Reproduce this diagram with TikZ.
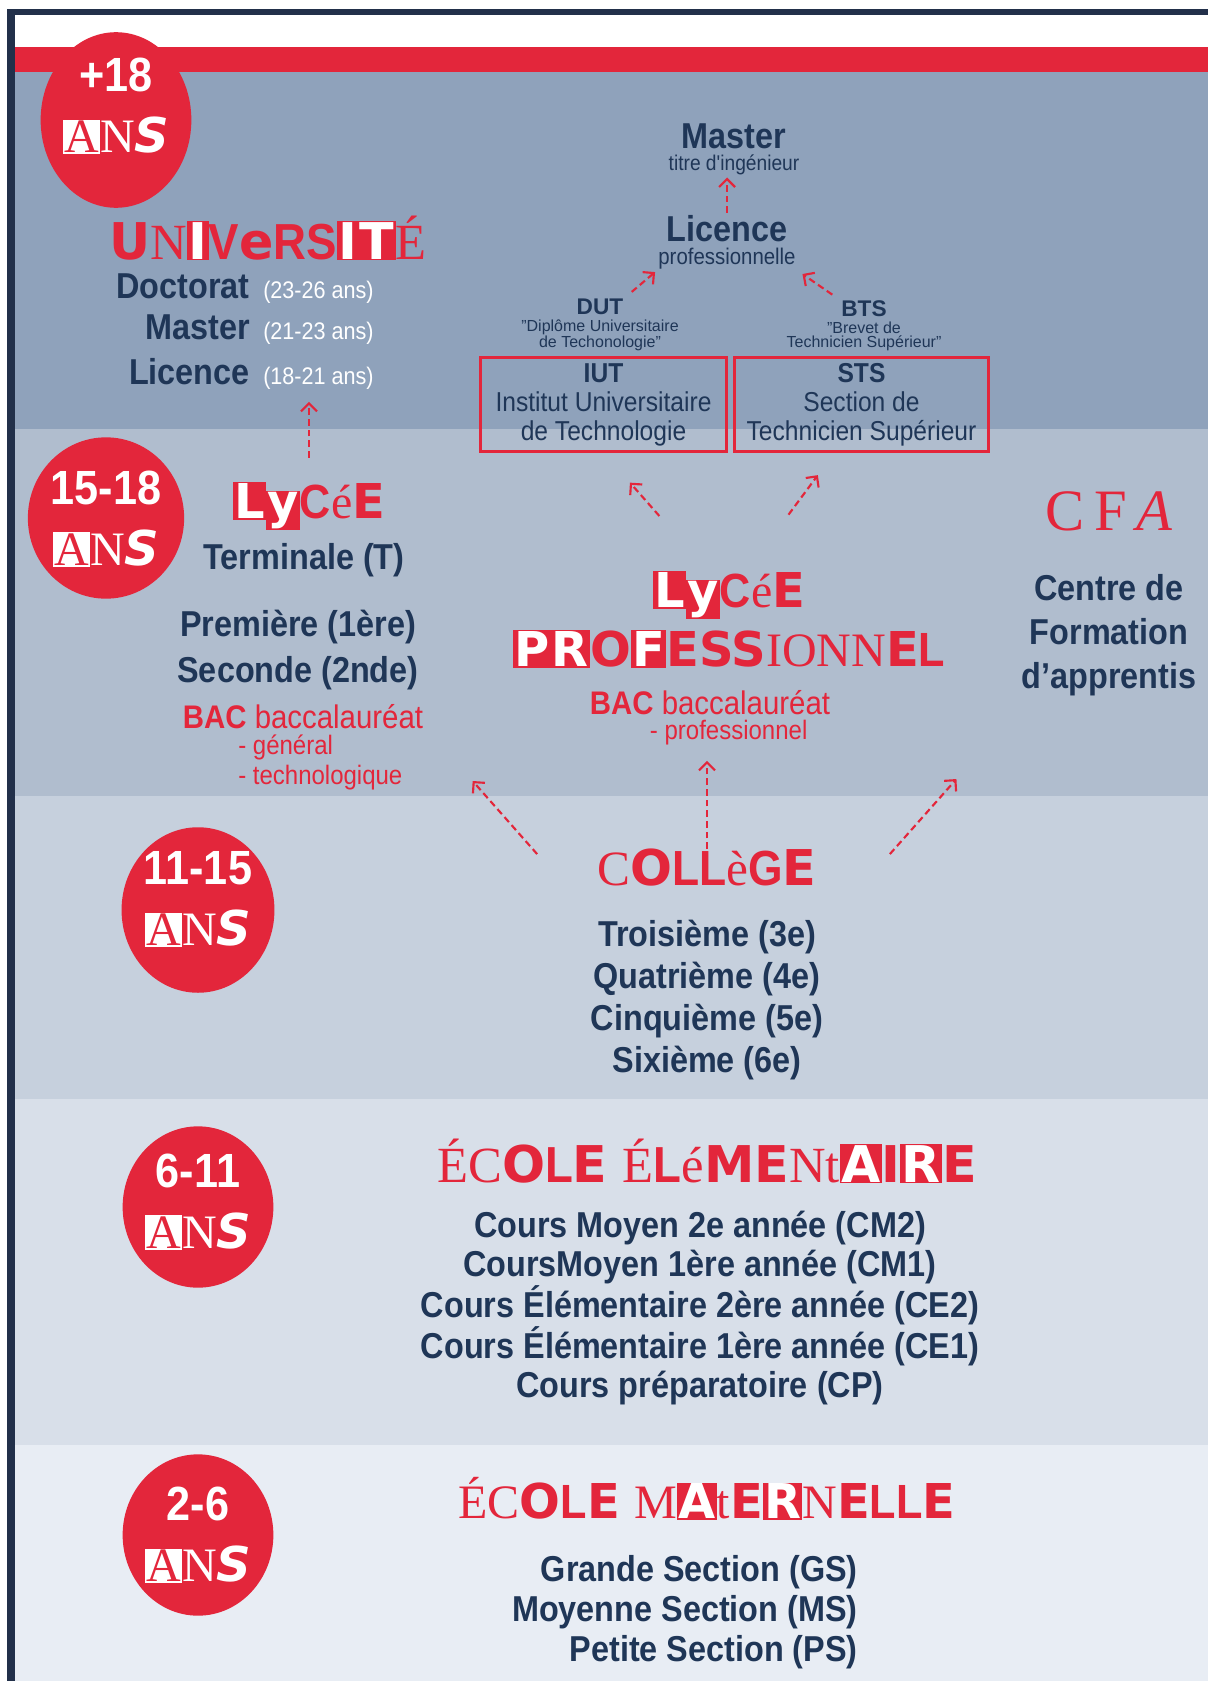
\documentclass[tikz,border=0pt]{standalone}
\usepackage{fontspec}
\setmainfont{Liberation Sans}
\newfontfamily\narrowf[FakeStretch=0.9]{Liberation Sans}
\newfontfamily\serifr{Liberation Serif}
\newfontfamily\heavyf{DejaVu Sans}
\usepackage{xcolor}
\usepackage{tikz}
\usetikzlibrary{positioning,arrows.meta,shapes.geometric}

\definecolor{rouge}{HTML}{E3263B}
\definecolor{marine}{HTML}{1F3657}
\definecolor{cadre}{HTML}{22304A}
\definecolor{bandA}{HTML}{8FA2BB}
\definecolor{bandB}{HTML}{B0BDCE}
\definecolor{bandC}{HTML}{C6D0DD}
\definecolor{bandD}{HTML}{D8DFE9}
\definecolor{bandE}{HTML}{E8EDF4}

\setlength{\fboxsep}{1pt}
\newcommand\rB[1]{{\heavyf\bfseries #1}}
\newcommand\rS[1]{{\serifr #1}}
\newcommand\rN[1]{{\narrowf\bfseries #1}}
\newcommand\rK[1]{\colorbox{rouge}{\textcolor{white}{\heavyf\bfseries #1}}}
\newcommand\ans{\colorbox{white}{\textcolor{rouge}{\serifr A}}{\serifr N}{\heavyf\bfseries\itshape S}}

\begin{document}
\begin{tikzpicture}[
  x=0.75pt, y=-0.75pt,
  ttl/.style={text=rouge, inner sep=0pt, font=\fontsize{38}{40}\selectfont},
  lst/.style={text=marine, inner sep=0pt, align=center,
              font=\narrowf\bfseries\fontsize{27}{32}\selectfont},
  sub/.style={text=marine, inner sep=0pt, font=\narrowf\fontsize{16}{17}\selectfont},
  note/.style={text=marine, inner sep=0pt, align=center, font=\fontsize{12}{11}\selectfont},
  ages/.style={text=white, inner sep=0pt, font=\narrowf\fontsize{18}{20}\selectfont},
  bac/.style={text=rouge, inner sep=0pt, font=\narrowf\fontsize{24.5}{26}\selectfont},
  bacs/.style={text=rouge, inner sep=0pt, align=left, font=\narrowf\fontsize{20}{22.5}\selectfont},
  boite/.style={draw=rouge, line width=2.2pt, minimum height=70pt, align=center,
                inner sep=0pt, text=marine, font=\narrowf\fontsize{20.5}{21.7}\selectfont},
  age/.style={ellipse, fill=rouge, minimum width=112pt, minimum height=121pt,
              inner sep=0pt, align=center, text=white, font=\fontsize{36}{46}\selectfont},
  arr/.style={draw=rouge, line width=1.6pt, dash pattern=on 5pt off 3pt,
              -{Straight Barb[length=6pt,width=12pt]}}
]
\useasboundingbox (0,0) rectangle (1208,1681);
\fill[white] (0,0) rectangle (1208,1681);
\fill[cadre] (7,9) rectangle (1208,15);
\fill[cadre] (7,9) rectangle (15,1681);
\fill[rouge] (15,47) rectangle (1208,72);
\foreach \c/\ya/\yb in {bandA/72/429, bandB/429/796, bandC/796/1099, bandD/1099/1445, bandE/1445/1681}
  \fill[\c] (15,\ya) rectangle (1208,\yb);

\node[age, text depth=22pt] (a18) at (116,120) {\rN{+18}\\\ans};
\node[age, text depth=0pt] (a15) at (106,518) {\rN{15-18}\\\ans};
\node[age, text depth=17pt] (a11) at (198,910) {\rN{11-15}\\\ans};
\node[age, text depth=9pt] (a6) at (198,1207) {\rN{6-11}\\\ans};
\node[age] (a2) at (198,1535) {\rN{2-6}\\\ans};

\node[ttl] (univ) at (268,238) {\rB{U}\rS{N}\rK{I}\rN{V}\rB{e}\rN{R}\rN{S}\rK{I}\rK{T}\rS{É}};
\node[lst, anchor=base east] (doc) at (250,298) {Doctorat};
\node[ages, anchor=base west] (docA) at (263,298) {(23-26 ans)};
\node[lst, anchor=base east] (mas) at (250,339) {Master};
\node[ages, anchor=base west] (masA) at (263,339) {(21-23 ans)};
\node[lst, anchor=base east] (lic) at (250,384) {Licence};
\node[ages, anchor=base west] (licA) at (263,384) {(18-21 ans)};

\node[lst] (mst) at (734,136) {Master};
\node[sub, below=4pt of mst] (mstS) {titre d'ingénieur};
\node[lst] (lpro) at (727,229) {Licence};
\node[sub, font=\narrowf\fontsize{17}{18}\selectfont, below=4pt of lpro] (lproS) {professionnelle};
\node[lst, font=\bfseries\fontsize{17}{18}\selectfont] (dut) at (600,307) {DUT};
\node[note, below=3pt of dut] (dutS) {"Diplôme Universitaire\\de Techonologie"};
\node[lst, font=\bfseries\fontsize{17}{18}\selectfont] (bts) at (864,309) {BTS};
\node[note, below=3pt of bts] (btsS) {"Brevet de\\Technicien Supérieur"};
\node[boite, minimum width=185pt] (iut) at (603.5,404.5) {\textbf{IUT}\\Institut Universitaire\\de Technologie};
\node[boite, minimum width=190pt] (sts) at (861.5,404.5) {\textbf{STS}\\Section de\\Technicien Supérieur};

\node[ttl, font=\fontsize{36}{38}\selectfont] (lyc) at (309,506) {\rK{L}\rK{y}\rN{C}\rS{é}\rB{E}};
\node[lst] (term) at (304,560) {Terminale (T)};
\node[lst, font=\narrowf\bfseries\fontsize{27}{33.8}\selectfont] (prem) at (298,650) {Première (1ère)\\Seconde (2nde)};
\node[bac] (bacg) at (303,717) {\textbf{BAC} baccalauréat};
\node[bacs, anchor=west] (bacgS) at (238,762) {- général\\- technologique};

\node[ttl, font=\fontsize{36}{38}\selectfont] (lpt1) at (729,595) {\rK{L}\rK{y}\rN{C}\rS{é}\rB{E}};
\node[ttl, font=\fontsize{36}{38}\selectfont, below=8pt of lpt1] (lpt2)
  {\rK{P}\rK{R}\rB{O}\rK{F}\rB{E}\rB{S}\rB{S}\rS{I}\rS{O}\rS{N}\rS{N}\rB{E}\rN{L}};
\node[bac] (bacp) at (710,703) {\textbf{BAC} baccalauréat};
\node[bacs, below=3pt of bacp.south, anchor=north, xshift=14pt] (bacpS) {- professionnel};

\node[ttl, font=\serifr\fontsize{44}{46}\selectfont] (cfa) at (1109,511) {C\,F\,\textit{A}};
\node[lst, font=\narrowf\bfseries\fontsize{27}{33}\selectfont] (cfaT) at (1109,635) {Centre de\\Formation\\d’apprentis};

\node[ttl, font=\fontsize{37}{40}\selectfont] (col) at (707,868) {\rS{C}\rB{O}\rN{L}\rN{L}\rS{è}\rN{G}\rB{E}};
\node[lst, font=\narrowf\bfseries\fontsize{27}{31.5}\selectfont] (colL) at (707,1000)
  {Troisième (3e)\\Quatrième (4e)\\Cinquième (5e)\\Sixième (6e)};

\node[ttl, font=\fontsize{38}{40}\selectfont] (ele) at (707,1161)
  {\rS{É}\rS{C}\rB{O}\rN{L}\rB{E}\hspace{0.3em}\rS{É}\rN{L}\rS{é}\rB{M}\rB{E}\rS{N}\rS{t}\rK{A}\rB{I}\rK{R}\rB{E}};
\node[lst, font=\narrowf\bfseries\fontsize{27}{29.4}\selectfont] (eleL) at (700,1308)
  {Cours Moyen 2e année (CM2)\\CoursMoyen 1ère année (CM1)\\Cours Élémentaire 2ère année (CE2)\\Cours Élémentaire 1ère année (CE1)\\Cours préparatoire (CP)};

\node[ttl, font=\fontsize{36}{40}\selectfont] (mat) at (707,1499)
  {\rS{É}\rS{C}\rB{O}\rN{L}\rB{E}\hspace{0.3em}\rS{M}\rK{A}\rS{t}\rB{E}\rK{R}\rS{N}\rB{E}\rN{L}\rN{L}\rB{E}};
\node[lst, align=right, anchor=east, font=\narrowf\bfseries\fontsize{27}{30}\selectfont] (matL) at (858,1612)
  {Grande Section (GS)\\Moyenne Section (MS)\\Petite Section (PS)};

\draw[arr, shorten <=18pt, shorten >=13pt] (lyc.north) -- (lyc.north |- lic.south);
\draw[arr, shorten <=2pt, shorten >=2pt] (lpro.north) -- (lpro.north |- mstS.south);
\draw[arr, shorten <=8pt, shorten >=3pt] (dut.north east) -- (lproS.south west);
\draw[arr, shorten <=8pt, shorten >=6pt] (bts.north west) -- (lproS.south east);
\draw[arr, shorten <=79pt, shorten >=30pt] (lpt1.center) -- (iut.south);
\draw[arr, shorten <=75pt, shorten >=21pt] (lpt1.center) -- ([shift={(-27,0)}]sts.south);
\draw[arr] ([shift={(-60,5)}]col.north west) -- ([shift={(70,19)}]bacgS.east);
\draw[arr, shorten >=12pt] (col.north) -- (col.north |- bacpS.south);
\draw[arr] ([shift={(73,5)}]col.north east) -- ([shift={(-65,83)}]cfaT.south west);
\end{tikzpicture}
\end{document}
